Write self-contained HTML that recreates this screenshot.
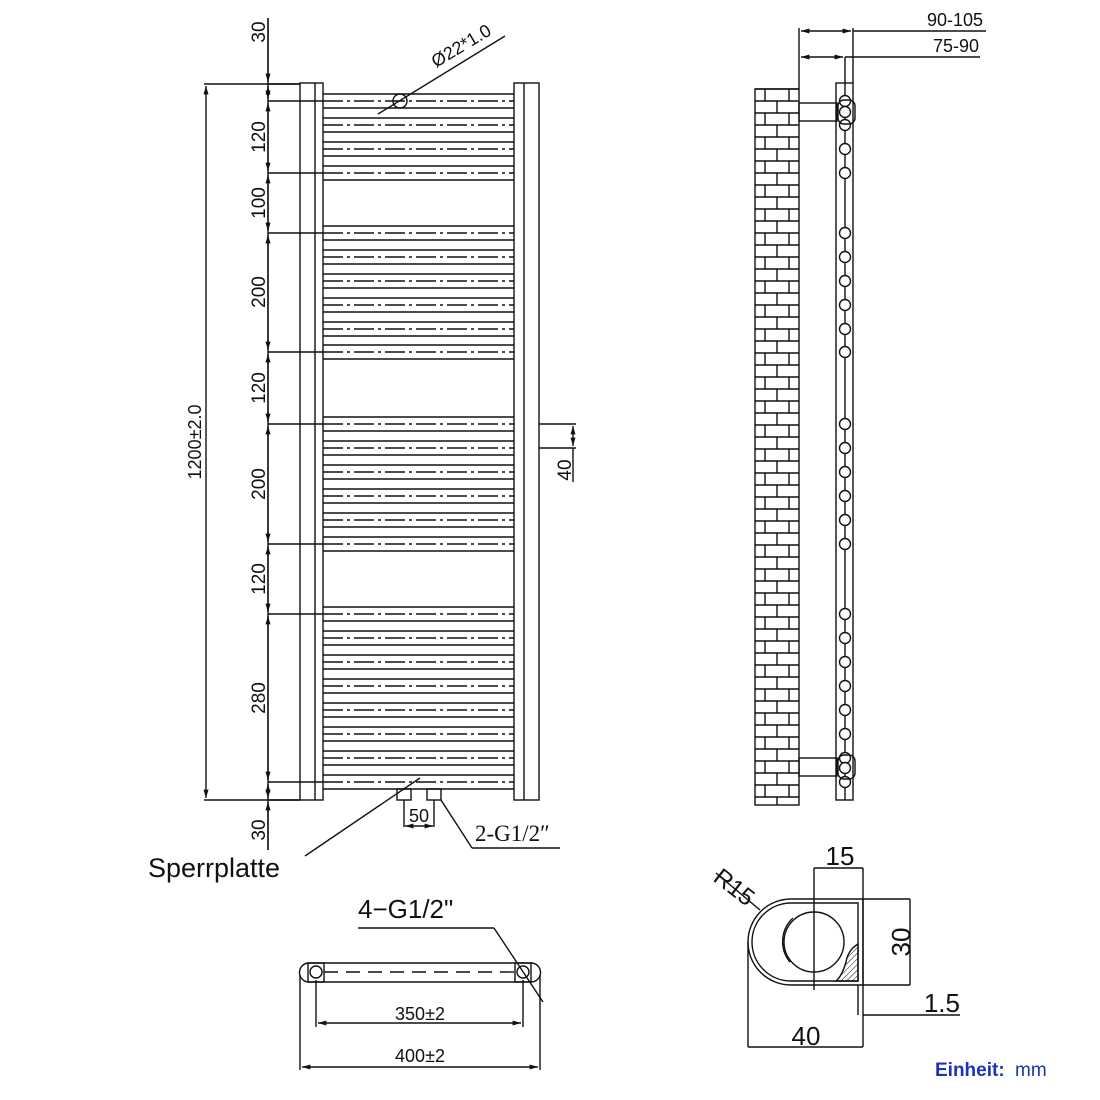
<!DOCTYPE html>
<html><head><meta charset="utf-8"><style>
html,body{margin:0;padding:0;background:#fff}
svg{display:block}
text{font-family:"Liberation Sans",sans-serif;fill:#111;stroke:none}
</style></head><body>
<svg id="s" width="1100" height="1100" viewBox="0 0 1100 1100" xmlns="http://www.w3.org/2000/svg" stroke="#111" fill="none" stroke-width="1.4">
<defs>
<marker id="a" viewBox="0 0 10 10" refX="10" refY="5" markerWidth="8" markerHeight="6" orient="auto-start-reverse"><path d="M0,2 L10,5 L0,8z" fill="#111" stroke="none"/></marker>
<pattern id="h" width="4" height="4" patternUnits="userSpaceOnUse" patternTransform="rotate(45)"><line x1="0" y1="0" x2="0" y2="4" stroke="#111" stroke-width="1"/></pattern>
</defs>
<g id="bars"></g>
<rect x="300" y="83" width="23" height="717"/>
<line x1="315" y1="83" x2="315" y2="800"/>
<rect x="514" y="83" width="25" height="717"/>
<line x1="524" y1="83" x2="524" y2="800"/>
<line x1="204" y1="84" x2="300" y2="84"/>
<line x1="204" y1="800" x2="300" y2="800"/>
<line x1="206" y1="86" x2="206" y2="798" marker-start="url(#a)" marker-end="url(#a)"/>
<text transform="translate(201,442) rotate(-90)" font-size="18" text-anchor="middle">1200±2.0</text>
<line x1="268" y1="18" x2="268" y2="850"/>
<g id="ticks"></g>
<g font-size="19" text-anchor="middle">
<text transform="translate(265,32) rotate(-90)">30</text>
<text transform="translate(265,137) rotate(-90)">120</text>
<text transform="translate(265,203) rotate(-90)">100</text>
<text transform="translate(265,292) rotate(-90)">200</text>
<text transform="translate(265,388) rotate(-90)">120</text>
<text transform="translate(265,484) rotate(-90)">200</text>
<text transform="translate(265,579) rotate(-90)">120</text>
<text transform="translate(265,698) rotate(-90)">280</text>
<text transform="translate(265,830) rotate(-90)">30</text>
</g>
<circle cx="400" cy="101" r="7"/>
<line x1="378" y1="114" x2="505" y2="36"/>
<text transform="translate(436,68) rotate(-31)" font-size="18">Ø22*1.0</text>
<line x1="539" y1="424" x2="576" y2="424"/><line x1="539" y1="448" x2="576" y2="448"/>
<line x1="573" y1="426" x2="573" y2="446" marker-start="url(#a)" marker-end="url(#a)"/>
<line x1="573" y1="448" x2="573" y2="482"/>
<text transform="translate(571,470) rotate(-90)" font-size="19" text-anchor="middle">40</text>
<rect x="397" y="789" width="14" height="11"/><rect x="427" y="789" width="14" height="11"/>
<line x1="404" y1="800" x2="404" y2="827"/><line x1="434" y1="800" x2="434" y2="827"/>
<line x1="405" y1="826" x2="433" y2="826" marker-start="url(#a)" marker-end="url(#a)"/>
<text x="419" y="822" font-size="18" text-anchor="middle">50</text>
<line x1="441" y1="800" x2="472" y2="848"/><line x1="472" y1="848" x2="560" y2="848"/>
<text x="475" y="841" font-size="23" style="font-family:'Liberation Serif',serif">2-G1/2″</text>
<line x1="420" y1="778" x2="305" y2="856"/>
<text x="148" y="877" font-size="27">Sperrplatte</text>
<text x="358" y="918" font-size="26">4−G1/2"</text>
<line x1="358" y1="928" x2="494" y2="928"/><line x1="494" y1="928" x2="543" y2="1002"/>
<path d="M309,963 H531 A9.5,9.5 0 0 1 531,982 H309 A9.5,9.5 0 0 1 309,963z"/>
<rect x="308" y="963" width="16" height="19"/><rect x="515" y="963" width="16" height="19"/>
<circle cx="316" cy="972" r="6"/><circle cx="523" cy="972" r="6"/>
<line x1="324" y1="972" x2="515" y2="972" stroke-dasharray="14,8"/>
<line x1="316" y1="980" x2="316" y2="1027"/><line x1="523" y1="980" x2="523" y2="1027"/>
<line x1="318" y1="1023" x2="521" y2="1023" marker-start="url(#a)" marker-end="url(#a)"/>
<text x="420" y="1020" font-size="18" text-anchor="middle">350±2</text>
<line x1="300" y1="975" x2="300" y2="1070"/><line x1="540" y1="975" x2="540" y2="1070"/>
<line x1="302" y1="1067" x2="538" y2="1067" marker-start="url(#a)" marker-end="url(#a)"/>
<text x="420" y="1062" font-size="18" text-anchor="middle">400±2</text>
<g id="wall"></g>
<rect x="755" y="89" width="44" height="716"/>
<rect x="836" y="83" width="17" height="717"/>
<line x1="845" y1="57" x2="845" y2="800"/>
<g id="circ"></g>
<rect x="799" y="103" width="38" height="18"/><rect x="799" y="758" width="38" height="18"/>
<rect x="838" y="100" width="17" height="24" rx="6"/><rect x="838" y="755" width="17" height="24" rx="6"/>
<line x1="799" y1="28" x2="799" y2="89"/><line x1="853" y1="28" x2="853" y2="83"/>
<line x1="801" y1="31" x2="851" y2="31" marker-start="url(#a)" marker-end="url(#a)"/>
<line x1="853" y1="31" x2="986" y2="31"/>
<line x1="801" y1="57" x2="843" y2="57" marker-start="url(#a)" marker-end="url(#a)"/>
<line x1="845" y1="57" x2="980" y2="57"/>
<text x="983" y="26" font-size="18" text-anchor="end">90-105</text>
<text x="979" y="52" font-size="18" text-anchor="end">75-90</text>
<path d="M863,899 H791 A43,43 0 0 0 791,985 H863z"/>
<path d="M858,903 H791 A39,39 0 0 0 791,981 H858z"/>
<circle cx="814" cy="942" r="30"/>
<path d="M790,962 A32,32 0 0 1 793,918"/>
<path d="M858,944 Q848,950 846,962 Q842,976 836,981 H858z" fill="url(#h)"/>
<line x1="814" y1="868" x2="814" y2="990"/>
<line x1="863" y1="868" x2="863" y2="1047"/>
<line x1="814" y1="868" x2="863" y2="868"/>
<text x="840" y="865" font-size="26" text-anchor="middle">15</text>
<line x1="863" y1="899" x2="910" y2="899"/><line x1="863" y1="985" x2="910" y2="985"/>
<line x1="910" y1="899" x2="910" y2="985"/>
<text transform="translate(910,942) rotate(-90)" font-size="26" text-anchor="middle">30</text>
<line x1="858" y1="985" x2="858" y2="1015"/>
<line x1="863" y1="1015" x2="960" y2="1015"/>
<text x="960" y="1012" font-size="26" text-anchor="end">1.5</text>
<line x1="748" y1="942" x2="748" y2="1047"/>
<line x1="748" y1="1047" x2="863" y2="1047"/>
<text x="806" y="1045" font-size="26" text-anchor="middle">40</text>
<line x1="716" y1="873" x2="760" y2="910"/>
<text transform="translate(712,880) rotate(38)" font-size="24">R15</text>
<text x="935" y="1076" font-size="19" font-weight="bold" style="fill:#1a33b8">Einheit:</text>
<text x="1015" y="1076" font-size="19" style="fill:#1a33b8">mm</text>
</svg>
<script>
var NS="http://www.w3.org/2000/svg";
function el(p,t,a){var e=document.createElementNS(NS,t);for(var k in a)e.setAttribute(k,a[k]);document.getElementById(p).appendChild(e);return e;}
var cs=[101,125,149,173,233,257,281,305,329,352,424,448,472,496,520,544,614,638,662,686,710,734,758,782];
cs.forEach(function(c){
 el("bars","line",{x1:323,y1:c-7,x2:514,y2:c-7});
 el("bars","line",{x1:323,y1:c+7,x2:514,y2:c+7});
 el("bars","line",{x1:323,y1:c,x2:514,y2:c,"stroke-dasharray":"20,4,3,4"});
});
[84,101,173,233,352,424,544,614,782,800].forEach(function(y){
 el("ticks","line",{x1:268,y1:y,x2:(y==84||y==800)?300:323,y2:y});
});
[[18,82],[86,99],[103,171],[175,231],[235,350],[354,422],[426,542],[546,612],[616,780],[784,798],[802,850]].forEach(function(p,i){
 var a={x1:268,y1:p[0],x2:268,y2:p[1]};
 if(i==0)a["marker-end"]="url(#a)";else if(i==10)a["marker-start"]="url(#a)";else{a["marker-start"]="url(#a)";a["marker-end"]="url(#a)";}
 el("ticks","line",a);
});
for(var y=89,r=0;y<805;y+=12,r++){
 el("wall","line",{x1:755,y1:y,x2:799,y2:y});
 var xs=r%2?[777]:[765,789];
 xs.forEach(function(x){el("wall","line",{x1:x,y1:y,x2:x,y2:Math.min(y+12,805)});});
}
cs.concat([112,768]).forEach(function(c){el("circ","circle",{cx:845,cy:c,r:5.5,fill:"#fff"});});
</script>
</body></html>
